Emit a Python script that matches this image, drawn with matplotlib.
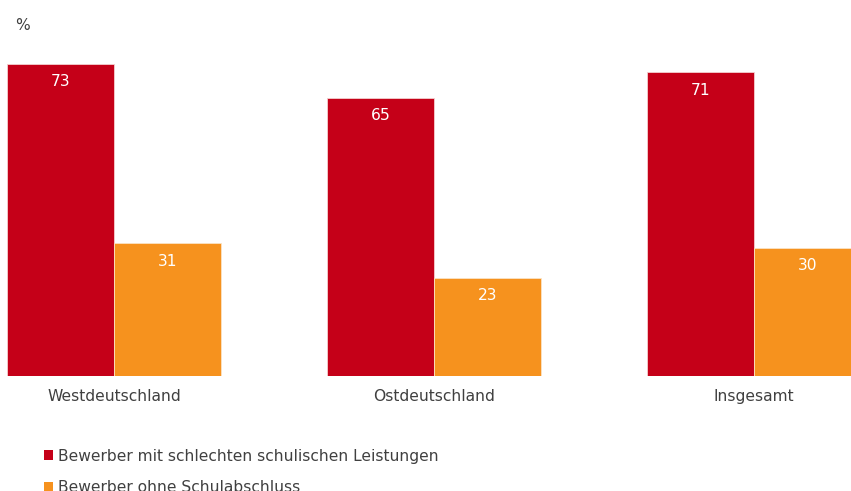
import matplotlib
matplotlib.use("Agg")
import matplotlib.pyplot as plt
from matplotlib.patches import Patch
import numpy as np

categories = ["Westdeutschland", "Ostdeutschland", "Insgesamt"]
series_names = ["Bewerber mit schlechten schulischen Leistungen",
                "Bewerber ohne Schulabschluss"]
schlechte_leistungen = [73, 65, 71]
ohne_abschluss = [31, 23, 30]

RED = "#C50018"
ORANGE = "#F6921E"
TEXT = "#404040"
FS = 11.2

plt.rcParams["font.family"] = ["DejaVu Sans"]

fig = plt.figure(figsize=(8.51, 4.91), dpi=100)
ax = fig.add_axes([0.0, 115 / 491, 1.0, 342.4 / 491])

x = np.arange(len(categories))
w = 1 / 3
b1 = ax.bar(x - w, schlechte_leistungen, width=w, align="edge", color=RED,
            edgecolor="#f4d0d0", linewidth=0.6)
b2 = ax.bar(x, ohne_abschluss, width=w, align="edge", color=ORANGE,
            edgecolor="#fbe3c4", linewidth=0.6)

for bars, vals in ((b1, schlechte_leistungen), (b2, ohne_abschluss)):
    for r, v in zip(bars, vals):
        ax.annotate(str(v), (r.get_x() + r.get_width() / 2, v),
                    xytext=(0, -13), textcoords="offset points",
                    ha="center", va="center", color="white", fontsize=FS)

ax.set_xlim(-114 / 320, (851 - 114) / 320)
ax.set_ylim(0, 80)
ax.set_xticks(x)
ax.set_xticklabels(categories, fontsize=FS, color=TEXT)
ax.tick_params(axis="x", length=0, pad=9.5)
ax.set_yticks([])
for s in ax.spines.values():
    s.set_visible(False)

fig.text(15 / 851, 1 - 25 / 491, "%", fontsize=FS, color=TEXT,
         ha="left", va="center")

handles = [Patch(facecolor=RED, edgecolor="none"),
           Patch(facecolor=ORANGE, edgecolor="none")]
fig.legend(handles, series_names, loc="upper left",
           bbox_to_anchor=(39 / 851, 1 - 444 / 491), frameon=False,
           fontsize=FS, handlelength=0.58, handleheight=0.58,
           handletextpad=0.32, labelspacing=1.05, labelcolor=TEXT,
           borderaxespad=0, borderpad=0.3)

fig.savefig("out.png", dpi=100)
